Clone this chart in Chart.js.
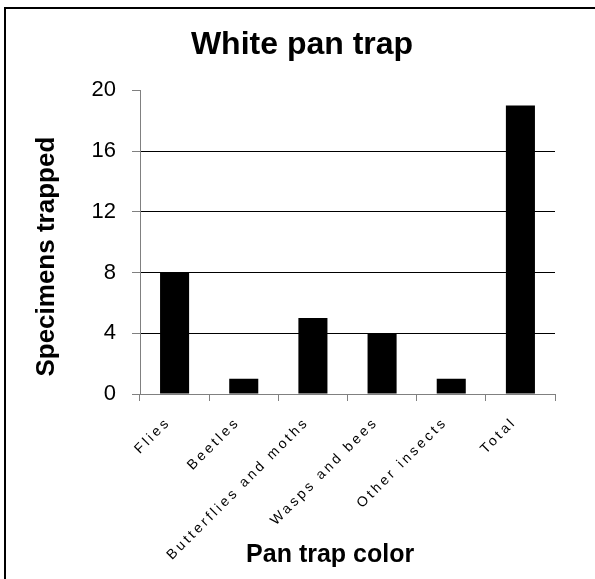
<!DOCTYPE html>
<html>
<head>
<meta charset="utf-8">
<script src="https://cdn.jsdelivr.net/npm/chart.js@4"></script>
<style>
  html, body { margin: 0; padding: 0; background: #fff; }
  #wrap { position: relative; width: 595px; height: 579px; overflow: hidden; }
  #frame { position: absolute; left: 4px; top: 7px; width: 620px; height: 600px; border: 2px solid #000; box-sizing: border-box; }
  canvas { position: absolute; left: 0; top: 0; }
</style>
</head>
<body>
<div id="wrap">
  <div id="frame"></div>
  <canvas id="panChart" width="595" height="579"></canvas>
</div>
<script>
// data
const categories = ['Flies', 'Beetles', 'Butterflies and moths', 'Wasps and bees', 'Other insects', 'Total'];
const specimens = [8, 1, 5, 4, 1, 19];
const yTicks = [0, 4, 8, 12, 16, 20];

const fontFamily = 'Liberation Sans, Arial, sans-serif';

// the category labels in the original are drawn widely spaced
const spacedXLabels = {
    id: 'spacedXLabels',
    beforeDraw(chart) {
        const xs = chart.scales.x;
        if (xs._spaced) return;
        const orig = xs.drawLabels;
        xs.drawLabels = function(area) {
            const c = this.ctx;
            c.save();
            c.letterSpacing = '3px';
            orig.call(this, area);
            c.restore();
        };
        xs._spaced = true;
    }
};

const ctx = document.getElementById('panChart').getContext('2d');

new Chart(ctx, {
    type: 'bar',
    data: {
        labels: categories,
        datasets: [{
            label: 'Specimens trapped',
            data: specimens,
            backgroundColor: '#000',
            borderWidth: 0,
            barPercentage: 0.42,
            categoryPercentage: 1
        }]
    },
    plugins: [spacedXLabels],
    options: {
        responsive: false,
        animation: false,
        layout: {
            padding: { left: 9, right: 0, top: 0, bottom: 5 }
        },
        plugins: {
            legend: { display: false },
            tooltip: { enabled: false },
            title: {
                display: true,
                text: 'White pan trap',
                color: '#000',
                font: { family: fontFamily, size: 32, weight: 'bold' },
                padding: { top: 26, bottom: 26 }
            }
        },
        scales: {
            x: {
                offset: true,
                grid: {
                    offset: true,
                    drawOnChartArea: false,
                    drawTicks: true,
                    tickLength: 7,
                    tickColor: '#808080'
                },
                border: { color: '#808080', width: 1 },
                ticks: {
                    color: '#000',
                    maxRotation: 45,
                    minRotation: 45,
                    padding: 13,
                    labelOffset: -6,
                    font: { family: fontFamily, size: 14 }
                },
                title: {
                    display: true,
                    text: 'Pan trap color     ',
                    color: '#000',
                    font: { family: fontFamily, size: 25, weight: 'bold' }
                },
                afterFit: function(scale) { scale.height = 180; }
            },
            y: {
                min: 0,
                max: 20,
                afterBuildTicks: function(scale) {
                    scale.ticks = yTicks.map(v => ({ value: v }));
                },
                grid: {
                    color: function(c) {
                        const v = c.tick ? c.tick.value : null;
                        return (v === 0 || v === 20) ? 'rgba(0,0,0,0)' : '#000';
                    },
                    tickColor: '#808080',
                    tickLength: 8,
                    lineWidth: 1
                },
                border: { color: '#808080', width: 1 },
                ticks: {
                    color: '#000',
                    padding: 16,
                    font: { family: fontFamily, size: 22 }
                },
                title: {
                    display: true,
                    text: 'Specimens trapped    ',
                    color: '#000',
                    padding: { top: 22, bottom: 4 },
                    font: { family: fontFamily, size: 26, weight: 'bold' }
                },
                afterFit: function(scale) { scale.width = 131; }
            },
            // empty strip on the right so the plot ends where the original does
            yRight: {
                position: 'right',
                min: 0,
                max: 20,
                grid: { display: false },
                border: { display: false },
                ticks: { display: false },
                afterFit: function(scale) { scale.width = 40; }
            }
        }
    }
});
</script>
</body>
</html>
